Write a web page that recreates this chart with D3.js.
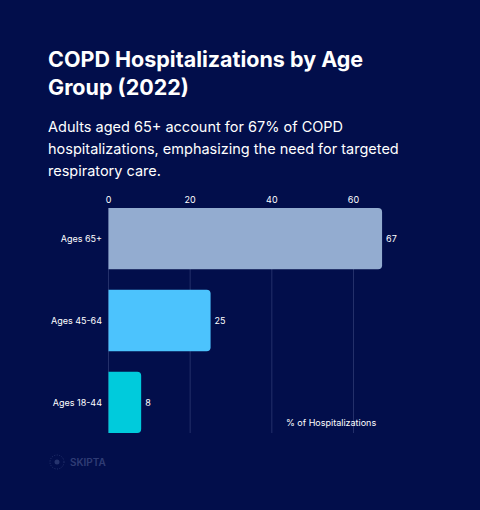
<!DOCTYPE html>
<html><head><meta charset="utf-8">
<script src="https://cdn.jsdelivr.net/npm/d3@7"></script>
<style>body{margin:0;background:#020e4b;font-family:Inter,sans-serif}</style>
</head><body>
<svg id="c" width="480" height="510"></svg>
<script>
const categories = ["Ages 65+","Ages 45-64","Ages 18-44"];
const values = [67,25,8];
const colors = ["#93acd0","#4cc3fd","#00cbdc"];
const ticks = [0,20,40,60];

const svg = d3.select("#c");
svg.append("rect").attr("width",480).attr("height",510).attr("fill","#020e4b");
svg.append("text").attr("x",48).attr("y",67).attr("fill","#fff").attr("font-size",21.5).attr("font-weight",700)
  .selectAll("tspan").data(["COPD Hospitalizations by Age","Group (2022)"]).join("tspan")
  .attr("x",48).attr("dy",(d,i)=>i?28:0).text(d=>d);
svg.append("text").attr("x",48).attr("y",132).attr("fill","#fff").attr("font-size",14.5)
  .selectAll("tspan").data(["Adults aged 65+ account for 67% of COPD","hospitalizations, emphasizing the need for targeted","respiratory care."]).join("tspan")
  .attr("x",48).attr("dy",(d,i)=>i?22:0).text(d=>d);

const x = d3.scaleLinear().domain([0,60]).range([108.5,353.5]);
const y = d3.scaleBand().domain(categories).range([208,433]).paddingInner(0.25).paddingOuter(0);

const g = svg.append("g");
g.selectAll("line.grid").data(ticks).join("line").attr("x1",d=>x(d)).attr("x2",d=>x(d))
  .attr("y1",208).attr("y2",433).attr("stroke","#24306a").attr("stroke-width",1);
g.selectAll("text.tick").data(ticks).join("text").attr("x",d=>x(d)).attr("y",203)
  .attr("text-anchor","middle").attr("fill","#fff").attr("font-size",9).text(d=>d);

const r=4;
g.selectAll("path.bar").data(values).join("path").attr("fill",(d,i)=>colors[i])
  .attr("d",(d,i)=>{const x0=x(0),x1=x(d),y0=y(categories[i]),h=y.bandwidth();
    return `M${x0},${y0}H${x1-r}Q${x1},${y0} ${x1},${y0+r}V${y0+h-r}Q${x1},${y0+h} ${x1-r},${y0+h}H${x0}Z`;});
g.selectAll("text.val").data(values).join("text").attr("x",d=>x(d)+4).attr("y",(d,i)=>y(categories[i])+y.bandwidth()/2+3.5)
  .attr("fill","#fff").attr("font-size",9).text(d=>d);
g.selectAll("text.cat").data(categories).join("text").attr("x",102).attr("y",d=>y(d)+y.bandwidth()/2+3.5)
  .attr("text-anchor","end").attr("fill","#fff").attr("font-size",9).text(d=>d);
svg.append("text").attr("x",286).attr("y",426).attr("fill","#fff").attr("font-size",9).text("% of Hospitalizations");

const lg=svg.append("g").attr("opacity",0.35);
lg.append("circle").attr("cx",57).attr("cy",462).attr("r",7).attr("fill","none").attr("stroke","#6a7bb0").attr("stroke-dasharray","1,1.5");
lg.append("circle").attr("cx",57).attr("cy",462).attr("r",2.5).attr("fill","#6a7bb0");
lg.append("text").attr("x",70).attr("y",466).attr("fill","#8090c0").attr("font-size",10).attr("font-weight",600).text("SKIPTA");
</script>
</body></html>
